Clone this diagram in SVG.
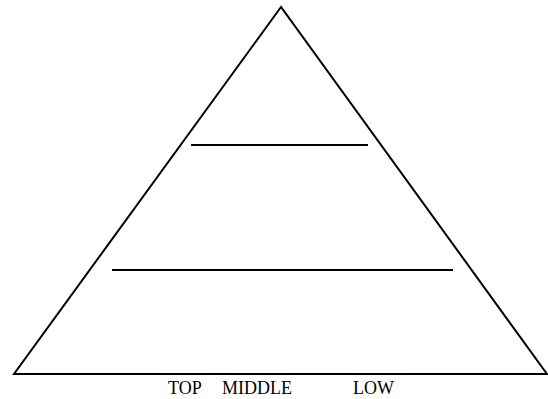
<svg xmlns="http://www.w3.org/2000/svg" width="548" height="399" viewBox="0 0 548 399">
<style>
.ln{stroke:#000;stroke-width:2;fill:none}
.t{font-family:"Liberation Serif",serif;font-size:18px;fill:#000}
</style>
<rect width="548" height="399" fill="#fff"/>
<g id="pyramid">
<polygon class="ln" points="281,7 14,374 547,374" stroke-linejoin="miter"/>
</g>
<g id="connectors">
<line class="ln" x1="191" y1="145" x2="368" y2="145"/>
<line class="ln" x1="112" y1="270" x2="453" y2="270"/>
</g>
<g id="labels">
<text class="t" x="168" y="394">TOP</text>
<text class="t" x="222" y="394">MIDDLE</text>
<text class="t" x="353" y="394">LOW</text>
</g>
</svg>
